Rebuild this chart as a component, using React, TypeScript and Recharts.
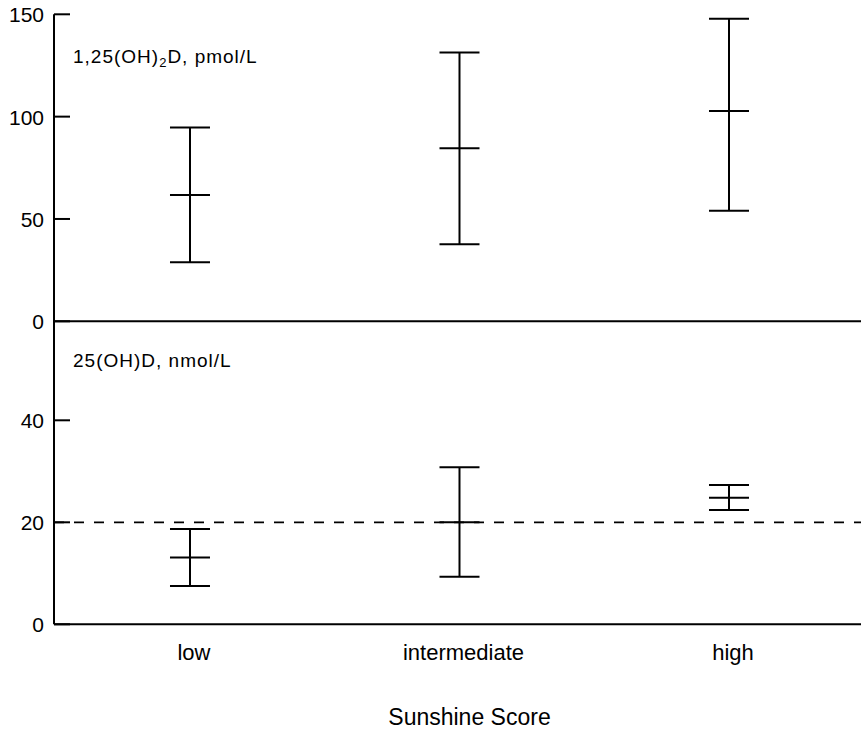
import React from 'react'
import { ComposedChart, Scatter, ErrorBar, XAxis, YAxis, ReferenceLine } from 'recharts'

const categories = ['low', 'intermediate', 'high']
const positions = [1, 2, 3]

// 1,25(OH)2D, pmol/L
const calcitriolMean = [61.7, 84.5, 102.8]
const calcitriolLow = [28.8, 37.6, 54.0]
const calcitriolHigh = [94.7, 131.3, 147.8]

// 25(OH)D, nmol/L
const calcidiolMean = [13.1, 20.0, 24.8]
const calcidiolLow = [7.5, 9.3, 22.4]
const calcidiolHigh = [18.7, 30.8, 27.3]

const topTicks = [0, 50, 100, 150]
const bottomTicks = [0, 20, 40]
const referenceLevel = 20

const FONT = '"Liberation Sans", Arial, Helvetica, sans-serif'
const X_DOMAIN = [0.4954, 3.4898]

const build = (mean: number[], low: number[], high: number[]) =>
  positions.map((x, i) => ({
    x,
    mean: mean[i],
    err: [mean[i] - low[i], high[i] - mean[i]],
  }))

const topData = build(calcitriolMean, calcitriolLow, calcitriolHigh)
const bottomData = build(calcidiolMean, calcidiolLow, calcidiolHigh)

const YTick = (props: any) => {
  const { x, y, payload } = props
  return (
    <g>
      <line x1={x} x2={x + 16} y1={y} y2={y} stroke="#000" strokeWidth={2} />
      <text x={x - 10} y={y} dy={8} textAnchor="end" fontSize={21} fill="#000" fontFamily={FONT}>
        {payload.value}
      </text>
    </g>
  )
}

const XTick = (props: any) => {
  const { x, y, payload } = props
  return (
    <text x={x + 4} y={y + 36} textAnchor="middle" fontSize={22} fill="#000" fontFamily={FONT}>
      {categories[payload.value - 1]}
    </text>
  )
}

// horizontal bar marking the mean
const MeanTick = (props: any) => {
  const { cx, cy } = props
  return <line x1={cx - 20} x2={cx + 20} y1={cy} y2={cy} stroke="#000" strokeWidth={2} />
}

export default function App() {
  return (
    <div style={{ position: 'absolute', left: 0, top: 0, width: 861, height: 730, background: '#fff' }}>
      <div style={{ position: 'absolute', left: 0, top: 0 }}>
        <ComposedChart width={861} height={340} data={topData} margin={{ top: 14.3, right: 0, left: 0, bottom: 0 }}>
          <XAxis
            type="number"
            dataKey="x"
            domain={X_DOMAIN}
            allowDataOverflow
            ticks={positions}
            tick={false}
            tickLine={false}
            height={18.7}
            axisLine={{ stroke: '#000', strokeWidth: 2 }}
          />
          <YAxis
            type="number"
            domain={[0, 150]}
            ticks={topTicks}
            width={54}
            tickSize={0}
            tickMargin={0}
            tick={<YTick />}
            axisLine={{ stroke: '#000', strokeWidth: 2 }}
          />
          <Scatter dataKey="mean" shape={<MeanTick />} isAnimationActive={false}>
            <ErrorBar dataKey="err" direction="y" width={20} stroke="#000" strokeWidth={2} isAnimationActive={false} />
          </Scatter>
        </ComposedChart>
      </div>
      <div style={{ position: 'absolute', left: 0, top: 0 }}>
        <ComposedChart width={861} height={730} data={bottomData} margin={{ top: 318.3, right: 0, left: 0, bottom: 0 }}>
          <XAxis
            type="number"
            dataKey="x"
            domain={X_DOMAIN}
            allowDataOverflow
            ticks={positions}
            tickSize={0}
            tickMargin={0}
            tick={<XTick />}
            height={105.7}
            axisLine={{ stroke: '#000', strokeWidth: 2 }}
            label={{
              value: 'Sunshine Score',
              position: 'insideBottom',
              offset: 5,
              fontSize: 23,
              fill: '#000',
              fontFamily: FONT,
              dx: 12,
            }}
          />
          <YAxis
            type="number"
            domain={[0, 60]}
            ticks={bottomTicks}
            width={54}
            tickSize={0}
            tickMargin={0}
            tick={<YTick />}
            axisLine={{ stroke: '#000', strokeWidth: 2 }}
          />
          <ReferenceLine y={referenceLevel} stroke="#000" strokeWidth={1.8} strokeDasharray="10 10" />
          <Scatter dataKey="mean" shape={<MeanTick />} isAnimationActive={false}>
            <ErrorBar dataKey="err" direction="y" width={20} stroke="#000" strokeWidth={2} isAnimationActive={false} />
          </Scatter>
        </ComposedChart>
      </div>
      <svg width={861} height={730} style={{ position: 'absolute', left: 0, top: 0, pointerEvents: 'none' }}>
        <text x={73} y={63} fontSize={19} letterSpacing={1} fill="#000" fontFamily={FONT}>
          1,25(OH)
          <tspan fontSize={13} dy={4}>2</tspan>
          <tspan dy={-4}>D, pmol/L</tspan>
        </text>
        <text x={73} y={367} fontSize={19} letterSpacing={1} fill="#000" fontFamily={FONT}>
          25(OH)D, nmol/L
        </text>
      </svg>
    </div>
  )
}
